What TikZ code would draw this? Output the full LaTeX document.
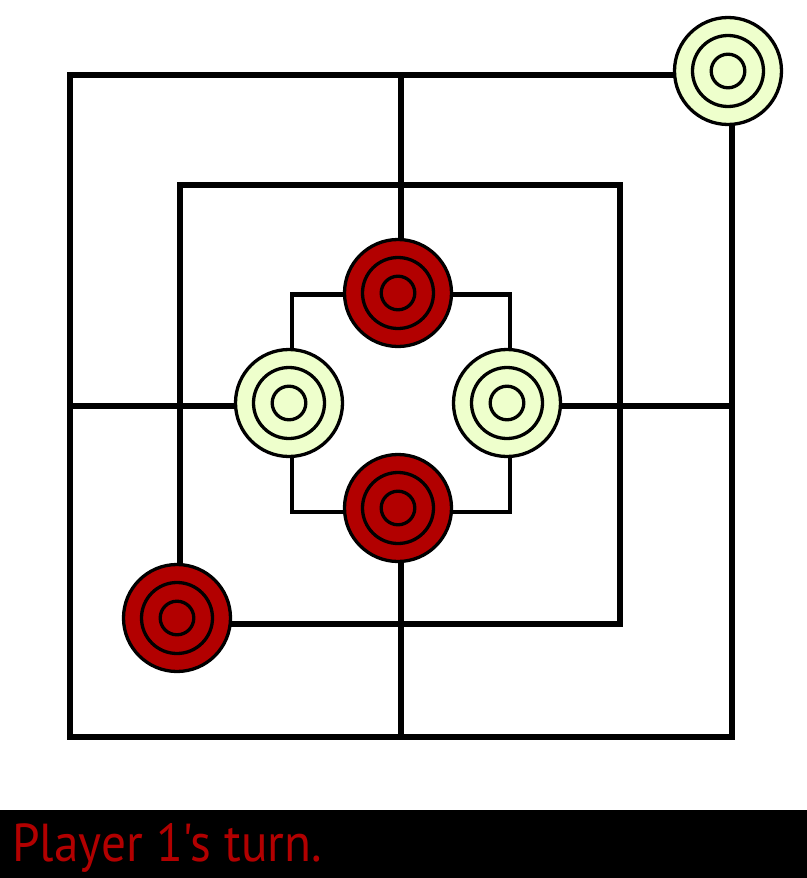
\documentclass[tikz,border=0pt]{standalone}
\usepackage{fontspec}
\usepackage{graphicx}
\newfontfamily\capfont{PT Sans}
\definecolor{pred}{RGB}{178,0,0}
\definecolor{ppale}{RGB}{238,255,204}
\tikzset{
  boardline/.style={line width=#1, line join=miter},
  boardline/.default=5.5bp,
  piece/.style={circle, draw=black, line width=3.3bp, fill=#1, minimum size=107bp, inner sep=0pt,
    path picture={\draw[line width=3.3bp] (path picture bounding box.center) circle[radius=35.5bp];
                  \draw[line width=3.3bp] (path picture bounding box.center) circle[radius=16.8bp];}},
}
\begin{document}
\begin{tikzpicture}[x=1bp,y=-1bp]
\useasboundingbox (0,0) rectangle (807,878);
\fill[white] (0,0) rectangle (807,878);
% board
\draw[boardline=6bp] (70,75) rectangle (732,737);
\draw[boardline=5.3bp] (180,185) rectangle (620,624);
\draw[boardline=4.5bp] (292,294.5) rectangle (510,512);
\draw[boardline] (401,75) -- (401,294.5);
\draw[boardline] (401,512) -- (401,737);
\draw[boardline] (70,406) -- (292,406);
\draw[boardline] (510,406) -- (732,406);
% pieces
\node[piece=ppale] (tr) at (728,71) {};
\node[piece=pred] (top) at (398,293) {};
\node[piece=ppale] (left) at (289,403) {};
\node[piece=ppale] (right) at (507,403) {};
\node[piece=pred] (bottom) at (398,508) {};
\node[piece=pred] (bl) at (177,618) {};
% status bar
\fill[black] (0,810) rectangle (807,878);
\node[anchor=base west, inner sep=0pt, text=pred] (turn) at (12,861)
  {\resizebox{310bp}{38bp}{\capfont Player 1's turn.}};
\end{tikzpicture}
\end{document}
